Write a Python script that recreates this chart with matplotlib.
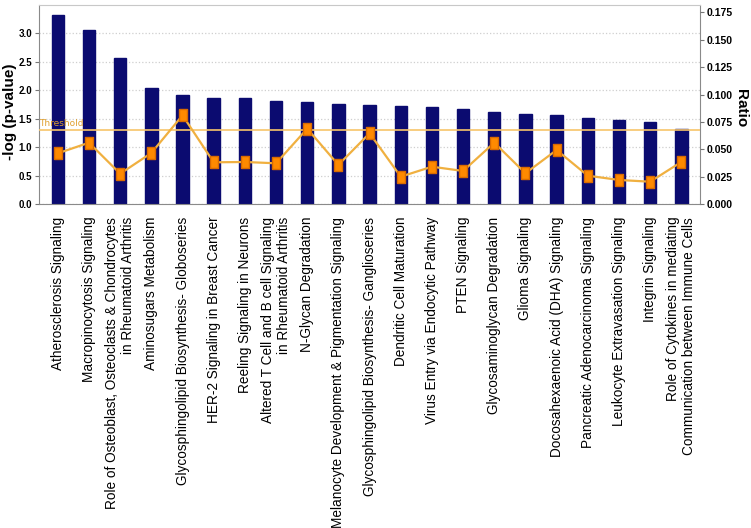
import matplotlib
matplotlib.use('Agg')
import matplotlib.pyplot as plt

# pathways, -log(p-value) and ratio
pathways = [
    'Atherosclerosis Signaling',
    'Macropinocytosis Signaling',
    'Role of Osteoblast, Osteoclasts & Chondrocytes\nin Rheumatoid Arthritis',
    'Aminosugars Metabolism',
    'Glycosphingolipid Biosynthesis- Globoseries',
    'HER-2 Signaling in Breast Cancer',
    'Reeling Signaling in Neurons',
    'Altered T Cell and B cell Signaling\nin Rheumatoid Arthritis',
    'N-Glycan Degradation',
    'Melanocyte Development & Pigmentation Signaling',
    'Glycosphingolipid Biosynthesis- Ganglioseries',
    'Dendritic Cell Maturation',
    'Virus Entry via Endocytic Pathway',
    'PTEN Signaling',
    'Glycosaminoglycan Degradation',
    'Glioma Signaling',
    'Docosahexaenoic Acid (DHA) Signaling',
    'Pancreatic Adenocarcinoma Signaling',
    'Leukocyte Extravasation Signaling',
    'Integrin Signaling',
    'Role of Cytokines in mediating\nCommunication between Immune Cells',
]
neg_log_p = [3.32, 3.06, 2.57, 2.05, 1.92, 1.87, 1.86, 1.82, 1.80, 1.77, 1.74,
             1.73, 1.71, 1.67, 1.62, 1.58, 1.57, 1.51, 1.48, 1.44, 1.33]
ratio = [0.0465, 0.0562, 0.0279, 0.0468, 0.0812, 0.0383, 0.0386, 0.0374, 0.069,
         0.0359, 0.0648, 0.0252, 0.0343, 0.0304, 0.0562, 0.0283, 0.0495, 0.0261,
         0.0222, 0.0206, 0.0386]
threshold = 1.3
left_ticks = [0.0, 0.5, 1.0, 1.5, 2.0, 2.5, 3.0]
right_ticks = [0.0, 0.025, 0.05, 0.075, 0.1, 0.125, 0.15, 0.175]

W, H = 751, 528
fig = plt.figure(figsize=(W / 100, H / 100), dpi=100)
ax = fig.add_axes([38.5 / W, 1 - 204.3 / H, (700 - 38.5) / W, (204.3 - 5) / H])

x = list(range(len(pathways)))
ax.bar(x, neg_log_p, width=0.4, color='#0b0b70', edgecolor='#0b0b70', zorder=2)
ax.axhline(threshold, color='#f7c56a', lw=1.2, zorder=3)
ax.text(-0.6, threshold + 0.04, 'Threshold', color='#e0a030', fontsize=6.5,
        ha='left', va='bottom', zorder=4)

ax.set_xlim(-0.62, 20.6)
ax.set_ylim(0, 3.5)
ax.set_yticks(left_ticks)
ax.set_yticklabels([f'{t:.1f}' for t in left_ticks], family='Liberation Sans',
                   fontweight='bold', fontsize=7)
ax.yaxis.grid(True, linestyle=':', color='#cfcfcf', lw=0.9, zorder=0)
ax.set_axisbelow(True)
ax.set_xticks(x)
ax.set_xticklabels(pathways, rotation=90, fontsize=9.8, family='Liberation Sans',
                   ha='center', va='top', multialignment='right')
ax.tick_params(axis='x', length=0, pad=9)
ax.tick_params(axis='y', length=3, pad=1.5, color='#777777')

for s in ['left', 'bottom', 'right']:
    ax.spines[s].set_color('#8a8a8a')
ax.spines['top'].set_color('#c8c8c8')

# tall rectangular markers like the original
rect = [(-0.75, -1), (0.75, -1), (0.75, 1), (-0.75, 1), (-0.75, -1)]
ax2 = ax.twinx()
ax2.plot(x, ratio, color='#f0b040', lw=1.6, zorder=5)
ax2.plot(x, ratio, ls='none', marker=rect, markersize=8,
         markerfacecolor='#ff8a00', markeredgecolor='#d86a00', zorder=6)
ax2.set_ylim(0, 0.1818)
ax2.set_yticks(right_ticks)
ax2.set_yticklabels([f'{t:.3f}' for t in right_ticks], family='Liberation Sans',
                    fontweight='bold', fontsize=7.5)
ax2.tick_params(axis='y', length=3, pad=2, color='#777777')
for s in ax2.spines.values():
    s.set_visible(False)

fig.text(10 / W, 1 - 112 / H, '-log (p-value)', rotation=90, fontsize=11,
         fontweight='bold', family='Liberation Sans', ha='center', va='center')
fig.text(741 / W, 1 - 108 / H, 'Ratio', rotation=-90, fontsize=11,
         fontweight='bold', family='Liberation Sans', ha='center', va='center')

fig.savefig('out.png', dpi=100)
